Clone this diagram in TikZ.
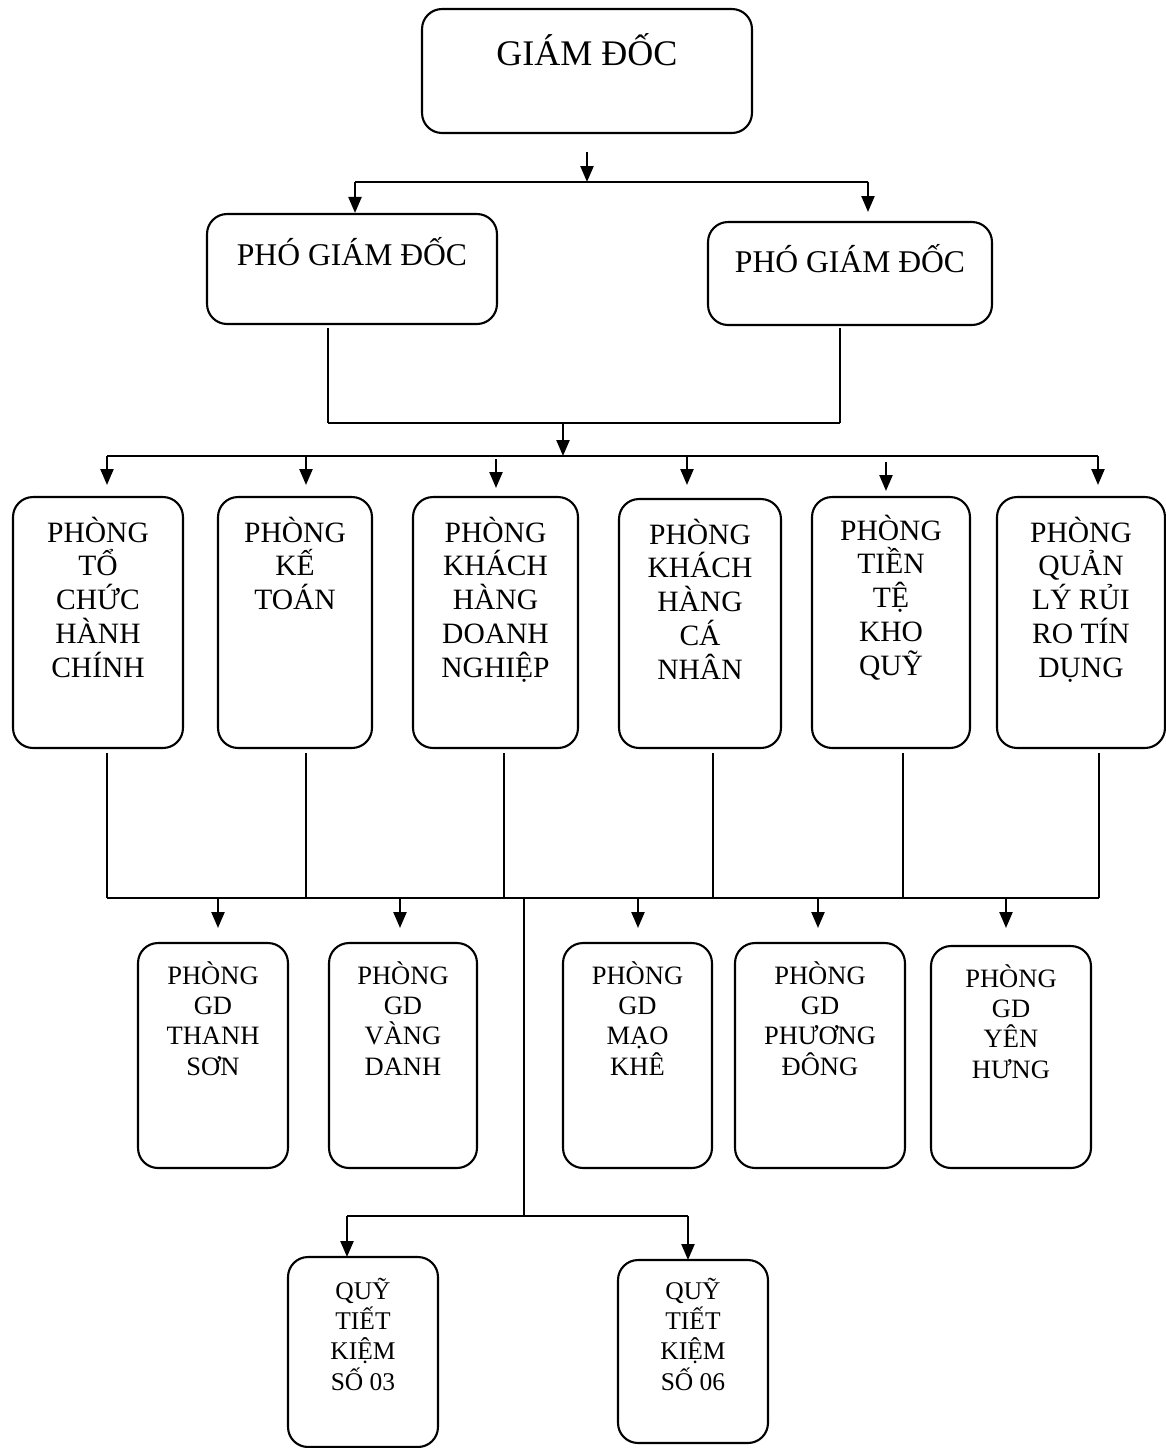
\documentclass[tikz,border=0pt]{standalone}
\usepackage{fontspec}
\setmainfont{Liberation Serif}
\usetikzlibrary{arrows.meta}

\begin{document}
\begin{tikzpicture}[x=0.02cm, y=-0.02cm,
  hop/.style={draw, line width=1.2pt, rounded corners=0.4cm, inner sep=0pt},
  chu1/.style={align=center, inner sep=0pt, font=\fontsize{20.5}{24}\selectfont},
  chu2/.style={align=center, inner sep=0pt, font=\fontsize{18}{22}\selectfont},
  chu3/.style={align=center, inner sep=0pt, font=\fontsize{16.8}{19.2}\selectfont},
  chu4/.style={align=center, inner sep=0pt, font=\fontsize{15.1}{17.1}\selectfont},
  chu5/.style={align=center, inner sep=0pt, font=\fontsize{14.5}{17.1}\selectfont},
  noi/.style={line width=1pt},
  muiten/.style={line width=1.3pt, -{Triangle[length=3.2mm,width=2.6mm]}}]
\useasboundingbox (0,0) rectangle (1166,1448);

% giam doc
\node (gd) at (587,71) [hop, minimum width=6.6cm, minimum height=2.48cm] {};
\node (gdt) at (587,65) [chu1, anchor=base] {GIÁM ĐỐC};

% pho giam doc
\node (pgd1) at (352,269) [hop, minimum width=5.8cm, minimum height=2.2cm] {};
\node (pgd1t) at (352,265) [chu2, anchor=base] {PHÓ GIÁM ĐỐC};
\node (pgd2) at (850,273.5) [hop, minimum width=5.68cm, minimum height=2.06cm] {};
\node (pgd2t) at (850,272) [chu2, anchor=base] {PHÓ GIÁM ĐỐC};

\coordinate (a0) at (587,152);
\coordinate (a1) at (587,182);
\coordinate (a1l) at (355,182);
\coordinate (a1r) at (868,182);
\draw[muiten] (a0) -- (a1);
\draw[line width=1.3pt] (a1l) -- (a1r);
\draw[muiten] (a1l) -- (a1l |- pgd1.north);
\draw[muiten] (a1r) -- (868,212);

% cac phong (base = dong cuoi)
\node (p1) at (98,622.5) [hop, minimum width=3.4cm, minimum height=5.02cm] {};
\node (p2) at (295,622.5) [hop, minimum width=3.08cm, minimum height=5.02cm] {};
\node (p3) at (495.5,622.5) [hop, minimum width=3.3cm, minimum height=5.02cm] {};
\node (p4) at (700,623.5) [hop, minimum width=3.24cm, minimum height=4.98cm] {};
\node (p5) at (891,622.5) [hop, minimum width=3.16cm, minimum height=5.02cm] {};
\node (p6) at (1081,622.5) [hop, minimum width=3.36cm, minimum height=5.02cm] {};
\node (p1t) at (98,677) [chu3, anchor=base] {PHÒNG\\TỔ\\CHỨC\\HÀNH\\CHÍNH};
\node (p2t) at (295,609.5) [chu3, anchor=base] {PHÒNG\\KẾ\\TOÁN};
\node (p3t) at (495.5,677) [chu3, anchor=base] {PHÒNG\\KHÁCH\\HÀNG\\DOANH\\NGHIỆP};
\node (p4t) at (700,679) [chu3, anchor=base] {PHÒNG\\KHÁCH\\HÀNG\\CÁ\\NHÂN};
\node (p5t) at (891,675) [chu3, anchor=base] {PHÒNG\\TIỀN\\TỆ\\KHO\\QUỸ};
\node (p6t) at (1081,677) [chu3, anchor=base] {PHÒNG\\QUẢN\\LÝ RỦI\\RO TÍN\\DỤNG};

\coordinate (b1l) at (328,328);
\coordinate (b1r) at (840,328);
\coordinate (b2l) at (328,423);
\coordinate (b2r) at (840,423);
\coordinate (b2) at (563,423);
\coordinate (b3) at (563,456);
\draw[noi] (b1l) -- (b2l);
\draw[noi] (b1r) -- (b2r);
\draw[line width=1.3pt] (b2l) -- (b2r);
\draw[muiten] (b2) -- (b3);
\draw[line width=1.3pt] (107,456) -- (1098,456);
\draw[muiten] (107,456) -- (107,485);
\draw[muiten] (306,456) -- (306,485);
\draw[muiten] (496,459) -- (496,488);
\draw[muiten] (687,456) -- (687,485);
\draw[muiten] (886,462) -- (886,491);
\draw[muiten] (1098,456) -- (1098,485);

% phong giao dich
\node (g1) at (213,1055.5) [hop, minimum width=3.0cm, minimum height=4.5cm] {};
\node (g2) at (403,1055.5) [hop, minimum width=2.96cm, minimum height=4.5cm] {};
\node (g3) at (637.5,1055.5) [hop, minimum width=2.98cm, minimum height=4.5cm] {};
\node (g4) at (820,1055.5) [hop, minimum width=3.4cm, minimum height=4.5cm] {};
\node (g5) at (1011,1057) [hop, minimum width=3.2cm, minimum height=4.44cm] {};
\node (g1t) at (213,1075) [chu4, anchor=base] {PHÒNG\\GD\\THANH\\SƠN};
\node (g2t) at (403,1075) [chu4, anchor=base] {PHÒNG\\GD\\VÀNG\\DANH};
\node (g3t) at (637.5,1075) [chu4, anchor=base] {PHÒNG\\GD\\MẠO\\KHÊ};
\node (g4t) at (820,1075) [chu4, anchor=base] {PHÒNG\\GD\\PHƯƠNG\\ĐÔNG};
\node (g5t) at (1011,1078) [chu4, anchor=base] {PHÒNG\\GD\\YÊN\\HƯNG};

\draw[noi] (107,753) -- (107,898);
\draw[noi] (306,753) -- (306,898);
\draw[noi] (504,753) -- (504,898);
\draw[noi] (713,753) -- (713,898);
\draw[noi] (903,753) -- (903,898);
\draw[noi] (1099,753) -- (1099,898);
\draw[line width=1.3pt] (107,898) -- (1099,898);
\draw[muiten] (218,898) -- (218,928);
\draw[muiten] (400,898) -- (400,928);
\draw[muiten] (638,898) -- (638,928);
\draw[muiten] (818,898) -- (818,928);
\draw[muiten] (1006,898) -- (1006,928);

% quy tiet kiem
\node (q1) at (363,1352) [hop, minimum width=3.0cm, minimum height=3.8cm] {};
\node (q2) at (693,1351.5) [hop, minimum width=3.0cm, minimum height=3.66cm] {};
\node (q1t) at (363,1390) [chu5, anchor=base] {QUỸ\\TIẾT\\KIỆM\\SỐ 03};
\node (q2t) at (693,1390) [chu5, anchor=base] {QUỸ\\TIẾT\\KIỆM\\SỐ 06};

\coordinate (c0) at (524,898);
\coordinate (c1) at (524,1216);
\coordinate (c1l) at (347,1216);
\coordinate (c1r) at (688,1216);
\draw[noi] (c0) -- (c1);
\draw[line width=1.3pt] (c1l) -- (c1r);
\draw[muiten] (c1l) -- (347,1257);
\draw[muiten] (c1r) -- (688,1260);
\end{tikzpicture}
\end{document}
